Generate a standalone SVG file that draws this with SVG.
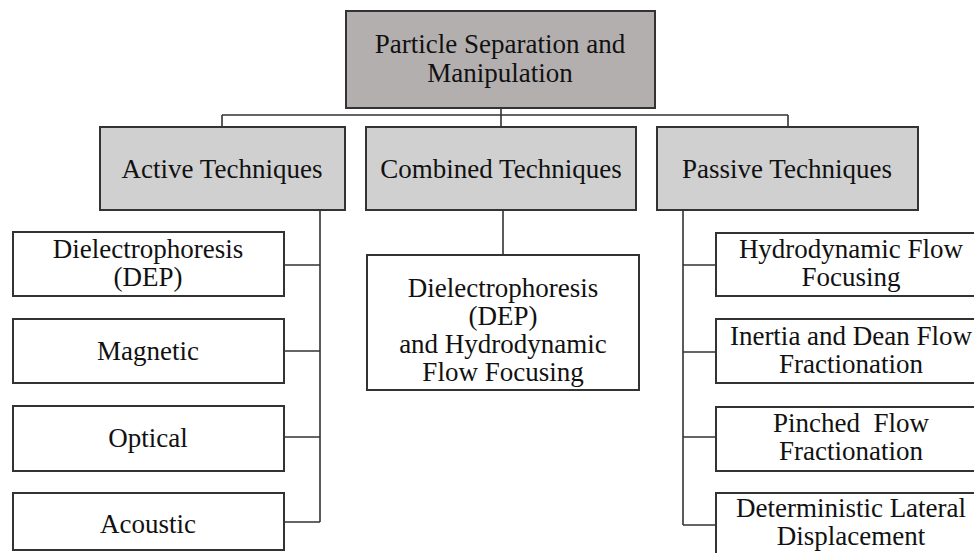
<svg xmlns="http://www.w3.org/2000/svg" width="974" height="553" viewBox="0 0 974 553">
<style>
.box{stroke:#333;stroke-width:2;fill:#fff}
.top{fill:#b4afaf}
.mid{fill:#d0d0d0}
text{font-family:"Liberation Serif","Times New Roman",serif;font-size:27px;fill:#111;text-anchor:middle}
.ln{stroke:#333;stroke-width:1.6;fill:none}
</style>
<rect width="974" height="553" fill="#fff"/>
<g id="connectors">
<path class="ln" d="M501 108V127M222 115H788M222 115V127M788 115V127"/>
<path class="ln" d="M320 210V522M284 265H320M284 351H320M284 437H320M284 522H320"/>
<path class="ln" d="M503 210V255"/>
<path class="ln" d="M683 210V525M683 265H716M683 352H716M683 437H716M683 525H716"/>
</g>
<g id="root"><rect class="box top" x="346" y="11" width="309" height="97"/><text x="500" y="53">Particle Separation and</text><text x="500" y="82">Manipulation</text></g>
<g id="active"><rect class="box mid" x="100" y="127" width="245" height="83"/><text x="222" y="178">Active Techniques</text></g>
<g id="combined"><rect class="box mid" x="366" y="127" width="270" height="83"/><text x="501" y="178">Combined Techniques</text></g>
<g id="passive"><rect class="box mid" x="657" y="127" width="261" height="83"/><text x="787" y="178">Passive Techniques</text></g>
<g id="dep"><rect class="box" x="13" y="232" width="271" height="64"/><text x="148" y="258">Dielectrophoresis</text><text x="148" y="286">(DEP)</text></g>
<g id="magnetic"><rect class="box" x="13" y="319" width="271" height="64"/><text x="148" y="360">Magnetic</text></g>
<g id="optical"><rect class="box" x="13" y="406" width="271" height="65"/><text x="148" y="447">Optical</text></g>
<g id="acoustic"><rect class="box" x="13" y="493" width="271" height="57"/><text x="148" y="533">Acoustic</text></g>
<g id="dep-hff"><rect class="box" x="367" y="255" width="272" height="135"/><text x="503" y="297">Dielectrophoresis</text><text x="503" y="325">(DEP)</text><text x="503" y="353">and Hydrodynamic</text><text x="503" y="381">Flow Focusing</text></g>
<g id="hff"><rect class="box" x="716" y="233" width="272" height="63"/><text x="851" y="258">Hydrodynamic Flow</text><text x="851" y="286">Focusing</text></g>
<g id="inertia"><rect class="box" x="716" y="319" width="272" height="64"/><text x="851" y="345">Inertia and Dean Flow</text><text x="851" y="373">Fractionation</text></g>
<g id="pinched"><rect class="box" x="716" y="407" width="272" height="64"/><text x="851" y="432">Pinched&#160; Flow</text><text x="851" y="460">Fractionation</text></g>
<g id="dld"><rect class="box" x="716" y="493" width="272" height="70"/><text x="851" y="517">Deterministic Lateral</text><text x="851" y="545">Displacement</text></g>
</svg>
